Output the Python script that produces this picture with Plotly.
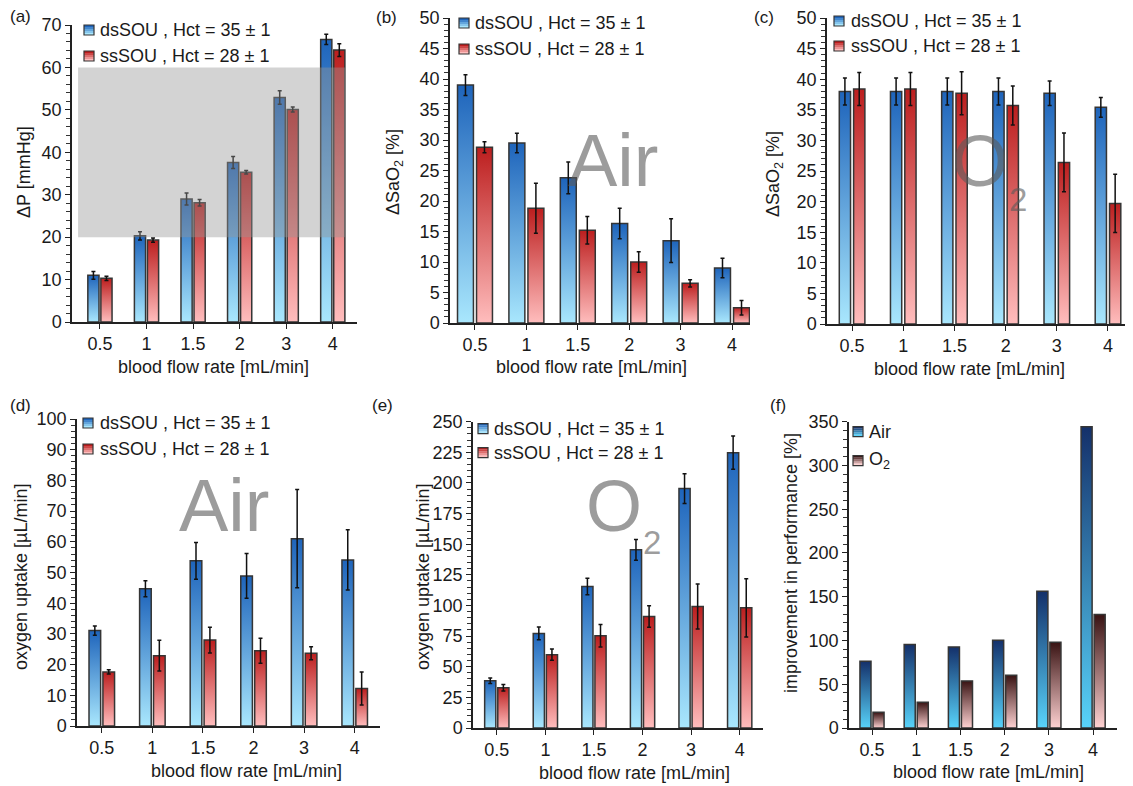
import plotly.graph_objects as go

W, H = 1133, 786
OFF = 8  # page body margin offset of the rendered html
FONT = "Liberation Sans, Arial, sans-serif"
TXT = "#1a1a1a"

# ---------------- data ----------------
categories = ["0.5", "1", "1.5", "2", "3", "4"]

dp_ds = [11.0, 20.3, 29.0, 37.6, 52.9, 66.6]
dp_ds_err = [0.9, 1.0, 1.4, 1.4, 1.6, 1.2]
dp_ss = [10.3, 19.3, 28.1, 35.3, 50.1, 64.1]
dp_ss_err = [0.5, 0.5, 0.75, 0.4, 0.6, 1.5]

sao2_air_ds = [39.0, 29.5, 23.8, 16.3, 13.5, 9.0]
sao2_air_ds_err = [1.7, 1.6, 2.6, 2.5, 3.6, 1.6]
sao2_air_ss = [28.8, 18.8, 15.2, 10.0, 6.5, 2.5]
sao2_air_ss_err = [0.9, 4.1, 2.25, 1.7, 0.6, 1.2]

sao2_o2_ds = [38.0, 38.0, 38.0, 38.0, 37.7, 35.4]
sao2_o2_ds_err = [2.2, 2.2, 2.2, 2.2, 2.0, 1.6]
sao2_o2_ss = [38.4, 38.4, 37.7, 35.7, 26.4, 19.7]
sao2_o2_ss_err = [2.7, 2.7, 3.5, 3.2, 4.8, 4.75]

up_air_ds = [31.1, 44.7, 53.8, 48.9, 61.0, 54.1]
up_air_ds_err = [1.5, 2.6, 6.0, 7.3, 16.0, 9.8]
up_air_ss = [17.6, 22.9, 28.0, 24.5, 23.7, 12.2]
up_air_ss_err = [0.7, 5.0, 4.2, 4.1, 2.1, 5.4]

up_o2_ds = [38.6, 77.2, 115.5, 145.4, 195.4, 224.7]
up_o2_ds_err = [2.3, 5.2, 6.8, 8.4, 12.2, 13.6]
up_o2_ss = [32.9, 59.8, 75.3, 91.0, 99.2, 98.1]
up_o2_ss_err = [2.6, 4.6, 9.1, 8.7, 18.3, 23.8]

impr_air = [76.2, 95.3, 92.6, 100.3, 156.3, 344.3]
impr_o2 = [17.9, 29.4, 53.8, 60.2, 98.0, 129.6]

band_range = [20, 60]

label_ds = "dsSOU , Hct = 35 ± 1"
label_ss = "ssSOU , Hct = 28 ± 1"
xtitle = "blood flow rate [mL/min]"

# ---------------- styles ----------------
BLUE = ("#a9e7fd", "#1e64bb")   # (bottom, top)
RED = ("#ffbdbd", "#bc1e1e")
AIR = ("#58d3fa", "#14306a")
OXY = ("#ffd2d2", "#391313")
OUTLINE = "#353535"


def px2x(p):
    return (p - OFF) / W


def px2y(p):
    return 1 - (p - OFF) / H


panels = [
    dict(tag="(a)", tagpos=(20, 17), px=(72, 357), py=(322, 25), xr=(-0.6, 5.52), yr=(0, 70),
         dtick=10, minor=2, bw=0.24, gap=0.04,
         series=[(dp_ds, dp_ds_err, BLUE, label_ds), (dp_ss, dp_ss_err, RED, label_ss)],
         ytitle="ΔP [mmHg]", ytpos=(24, 172), xtpos=(213, 367),
         leg=(12, 26, 5, 31)),
    dict(tag="(b)", tagpos=(386, 18), px=(450, 750), py=(323, 18), xr=(-0.486, 5.35), yr=(0, 50),
         dtick=5, minor=1, bw=0.31, gap=0.06,
         series=[(sao2_air_ds, sao2_air_ds_err, BLUE, label_ds), (sao2_air_ss, sao2_air_ss_err, RED, label_ss)],
         ytitle="ΔSaO<sub>2</sub> [%]", ytpos=(395, 172), xtpos=(591, 367),
         leg=(9, 23, 5, 31)),
    dict(tag="(c)", tagpos=(764, 18), px=(827, 1130), py=(324, 18), xr=(-0.49, 5.43), yr=(0, 50),
         dtick=5, minor=1, bw=0.22, gap=0.06,
         series=[(sao2_o2_ds, sao2_o2_ds_err, BLUE, label_ds), (sao2_o2_ss, sao2_o2_ss_err, RED, label_ss)],
         ytitle="ΔSaO<sub>2</sub> [%]", ytpos=(775, 174), xtpos=(969, 369),
         leg=(7, 22, 3, 28)),
    dict(tag="(d)", tagpos=(20, 405), px=(77, 380), py=(726, 419), xr=(-0.49, 5.5), yr=(0, 100),
         dtick=10, minor=2, bw=0.23, gap=0.045,
         series=[(up_air_ds, up_air_ds_err, BLUE, label_ds), (up_air_ss, up_air_ss_err, RED, label_ss)],
         ytitle="oxygen uptake [µL/min]", ytpos=(21, 577), xtpos=(246, 771),
         leg=(6, 21, 4, 30)),
    dict(tag="(e)", tagpos=(382, 405), px=(473, 763), py=(728, 421.7), xr=(-0.49, 5.48), yr=(0, 250),
         dtick=25, minor=5, bw=0.23, gap=0.04,
         series=[(up_o2_ds, up_o2_ds_err, BLUE, label_ds), (up_o2_ss, up_o2_ss_err, RED, label_ss)],
         ytitle="oxygen uptake [µL/min]", ytpos=(423, 577), xtpos=(634, 773),
         leg=(5, 19, 7, 31)),
    dict(tag="(f)", tagpos=(778, 405), px=(849, 1117), py=(728, 421.7), xr=(-0.52, 5.54), yr=(0, 350),
         dtick=50, minor=10, bw=0.25, gap=0.045,
         series=[(impr_air, None, AIR, "Air"), (impr_o2, None, OXY, "O<sub>2</sub>")],
         ytitle="improvement in performance [%]", ytpos=(791, 563), xtpos=(988, 772),
         leg=(4, 18, 10, 39)),
]

fig = go.Figure()
shapes = []
annotations = []
layout = {}

for k, p in enumerate(panels, start=1):
    xa = "x" if k == 1 else f"x{k}"
    ya = "y" if k == 1 else f"y{k}"
    xkey = "xaxis" if k == 1 else f"xaxis{k}"
    ykey = "yaxis" if k == 1 else f"yaxis{k}"

    bw, gap = p["bw"], p["gap"]
    offsets = [-(gap / 2 + bw / 2), gap / 2 + bw / 2]
    for (vals, errs, (c_lo, c_hi), name), off in zip(p["series"], offsets):
        centers = []
        for i, v in enumerate(vals):
            c = i + off
            centers.append(c)
            l, r = c - bw / 2, c + bw / 2
            fig.add_trace(go.Scatter(
                x=[l, l, r, r, l], y=[0, v, v, 0, 0], xaxis=xa, yaxis=ya,
                mode="lines", fill="toself",
                fillgradient=dict(type="vertical", colorscale=[[0, c_lo], [1, c_hi]], start=0, stop=v),
                line=dict(color=OUTLINE, width=1.5), showlegend=False, hoverinfo="skip"))
        if errs is not None:
            fig.add_trace(go.Scatter(
                x=centers, y=vals, xaxis=xa, yaxis=ya, mode="markers",
                marker=dict(size=1, color="rgba(0,0,0,0)"),
                error_y=dict(type="data", array=errs, visible=True, color="#111111", thickness=1.5, width=2),
                showlegend=False, hoverinfo="skip"))

    layout[xkey] = dict(domain=[px2x(p["px"][0]), px2x(p["px"][1])], range=list(p["xr"]), anchor=ya,
                        tickvals=list(range(len(categories))), ticktext=categories,
                        ticks="outside", ticklen=5, tickwidth=1.3, tickcolor="#222",
                        showline=True, linecolor="#222", linewidth=1.5, showgrid=False, zeroline=False,
                        automargin=False, ticklabeloverflow="allow",
                        tickfont=dict(size=18, color=TXT, family=FONT), fixedrange=True)
    layout[ykey] = dict(domain=[px2y(p["py"][0]), px2y(p["py"][1])], range=list(p["yr"]), anchor=xa,
                        tick0=0, dtick=p["dtick"], ticks="outside", ticklen=5, tickwidth=1.3, tickcolor="#222",
                        minor=dict(dtick=p["minor"], tick0=0, ticks="outside", ticklen=4, tickwidth=1.1,
                                   tickcolor="#333", showgrid=False),
                        showline=True, linecolor="#222", linewidth=1.5, showgrid=False, zeroline=False,
                        automargin=False, ticklabeloverflow="allow",
                        tickfont=dict(size=18, color=TXT, family=FONT), fixedrange=True)

    # panel tag
    annotations.append(dict(text=p["tag"], x=px2x(p["tagpos"][0]), y=px2y(p["tagpos"][1]),
                            xref="paper", yref="paper", showarrow=False, xanchor="center", yanchor="middle",
                            font=dict(size=17, color=TXT, family=FONT)))
    # axis titles
    annotations.append(dict(text=p["ytitle"], x=px2x(p["ytpos"][0]), y=px2y(p["ytpos"][1]),
                            xref="paper", yref="paper", showarrow=False, textangle=-90,
                            xanchor="center", yanchor="middle", font=dict(size=18, color=TXT, family=FONT)))
    annotations.append(dict(text=xtitle, x=px2x(p["xtpos"][0]), y=px2y(p["xtpos"][1]),
                            xref="paper", yref="paper", showarrow=False,
                            xanchor="center", yanchor="middle", font=dict(size=18, color=TXT, family=FONT)))

    # manual legend
    dsq, dtx, dy1, dy2 = p["leg"]
    ax0, top = p["px"][0], p["py"][1]
    for (vals, errs, (c_lo, c_hi), name), dy in zip(p["series"], (dy1, dy2)):
        cy = top + dy
        sx0, sx1 = ax0 + dsq, ax0 + dsq + 10
        sy0 = cy - 5
        nstrip = 5
        for s in range(nstrip):
            t = s / (nstrip - 1)
            a = [int(c_hi[j:j + 2], 16) for j in (1, 3, 5)]
            b = [int(c_lo[j:j + 2], 16) for j in (1, 3, 5)]
            col = "rgb(%d,%d,%d)" % tuple(round(a[q] + (b[q] - a[q]) * t) for q in range(3))
            shapes.append(dict(type="rect", xref="paper", yref="paper",
                               x0=px2x(sx0), x1=px2x(sx1), y0=px2y(sy0 + 2 * s), y1=px2y(sy0 + 2 * s + 2),
                               fillcolor=col, line=dict(width=0), layer="above"))
        shapes.append(dict(type="rect", xref="paper", yref="paper",
                           x0=px2x(sx0), x1=px2x(sx1), y0=px2y(sy0), y1=px2y(sy0 + 10),
                           fillcolor="rgba(0,0,0,0)", line=dict(width=1.2, color=OUTLINE), layer="above"))
        annotations.append(dict(text=name, x=px2x(ax0 + dtx), y=px2y(cy), xref="paper", yref="paper",
                                showarrow=False, xanchor="left", yanchor="middle",
                                font=dict(size=18, color=TXT, family=FONT)))

# gray pressure band in panel (a)
shapes.append(dict(type="rect", xref="x", yref="y", x0=-0.47, x1=5.27, y0=band_range[0], y1=band_range[1],
                   fillcolor="rgb(150,150,150)", opacity=0.42, line=dict(width=0), layer="above"))

# watermarks
WM = "rgba(90,90,90,0.6)"
for text, xp, yp, size, xanc in [("Air", 613, 161, 74, "center"), ("Air", 224, 506, 74, "center"),
                                 ("O", 980, 161, 72, "center"), ("2", 1007, 200, 33, "left"),
                                 ("O", 614, 506, 72, "center"), ("2", 641, 542, 33, "left")]:
    annotations.append(dict(text=text, x=px2x(xp), y=px2y(yp), xref="paper", yref="paper",
                            showarrow=False, xanchor=xanc, yanchor="middle",
                            font=dict(size=size, color=WM, family=FONT)))

fig.update_layout(width=W, height=H, margin=dict(l=0, r=0, t=0, b=0, pad=0, autoexpand=False),
                  paper_bgcolor="white", plot_bgcolor="white", showlegend=False,
                  font=dict(family=FONT, color=TXT), shapes=shapes, annotations=annotations, **layout)

fig.write_html("out.html")
